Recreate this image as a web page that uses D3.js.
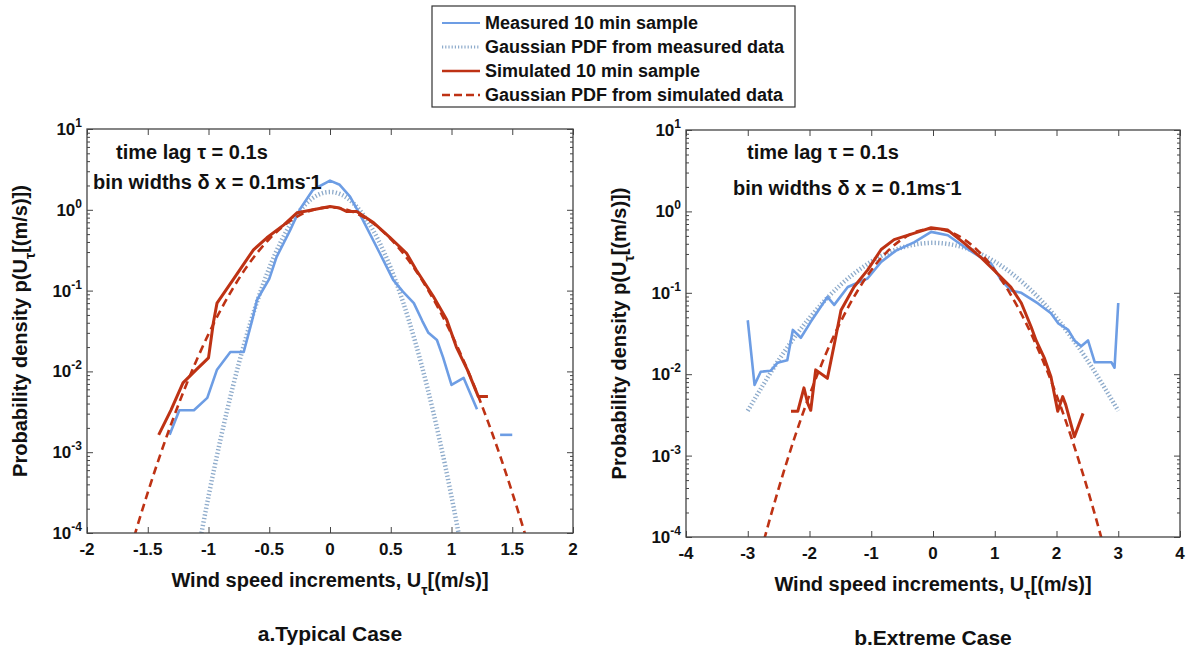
<!DOCTYPE html>
<html><head><meta charset="utf-8">
<script src="https://cdn.jsdelivr.net/npm/d3@7"></script>
<style>body{margin:0;background:#fff}text{font-family:"Liberation Sans",Arial,sans-serif;font-weight:bold;fill:#111}</style>
</head><body><svg id="c" width="1192" height="648"></svg>
<script>
// ---------- data ----------
const xTicksA = [-2,-1.5,-1,-0.5,0,0.5,1,1.5,2];
const xTickLabelsA = ["-2","-1.5","-1","-0.5","0","0.5","1","1.5","2"];
const xTicksB = [-4,-3,-2,-1,0,1,2,3,4];
const xTickLabelsB = ["-4","-3","-2","-1","0","1","2","3","4"];
const yDecades = [-4,-3,-2,-1,0,1];
const legendLabels = ["Measured 10 min sample","Gaussian PDF from measured data","Simulated 10 min sample","Gaussian PDF from simulated data"];

// Typical case
const measuredA = [[-1.32,0.00164],[-1.24,0.0033],[-1.12,0.0033],[-1.01,0.0047],[-0.93,0.0105],[-0.82,0.0174],[-0.71,0.0174],[-0.64,0.0435],[-0.60,0.077],[-0.50,0.14],[-0.44,0.26],[-0.33,0.55],[-0.25,1.0],[-0.14,1.77],[0,2.3],[0.08,2.04],[0.165,1.46],[0.27,0.75],[0.41,0.29],[0.52,0.136],[0.60,0.097],[0.69,0.07],[0.76,0.042],[0.81,0.030],[0.88,0.0245],[0.93,0.015],[1.0,0.0068],[1.1,0.0083],[1.21,0.0034]];
const measuredA2 = [[1.40,0.00164],[1.50,0.00164]];
const gaussMeasA = [[-1.1,0.0000455],[-1.0,0.000283],[-0.9,0.00147],[-0.8,0.00643],[-0.7,0.0236],[-0.6,0.0730],[-0.5,0.190],[-0.4,0.4145],[-0.3,0.761],[-0.2,1.175],[-0.1,1.524],[0,1.662],[0.1,1.524],[0.2,1.175],[0.3,0.761],[0.4,0.4145],[0.5,0.190],[0.6,0.0730],[0.7,0.0236],[0.8,0.00643],[0.9,0.00147],[1.0,0.000283],[1.1,0.0000455]];
const simulatedA = [[-1.41,0.00164],[-1.31,0.0033],[-1.21,0.0072],[-1.1,0.0105],[-1.0,0.0147],[-0.96,0.04],[-0.93,0.07],[-0.8,0.135],[-0.63,0.32],[-0.52,0.45],[-0.38,0.65],[-0.27,0.92],[-0.14,1.0],[0,1.1],[0.08,1.05],[0.14,0.95],[0.22,0.95],[0.36,0.69],[0.49,0.46],[0.63,0.29],[0.71,0.18],[0.85,0.085],[0.96,0.044],[1.04,0.020],[1.13,0.0105],[1.22,0.0049],[1.30,0.0049]];
const gaussSimA = [[-1.7,0.000031],[-1.6,0.000103],[-1.5,0.000316],[-1.4,0.000902],[-1.3,0.00239],[-1.2,0.0059],[-1.1,0.01355],[-1.0,0.0289],[-0.9,0.0575],[-0.8,0.106],[-0.7,0.183],[-0.6,0.292],[-0.5,0.435],[-0.4,0.601],[-0.3,0.775],[-0.2,0.928],[-0.1,1.034],[0,1.072],[0.1,1.034],[0.2,0.928],[0.3,0.775],[0.4,0.601],[0.5,0.435],[0.6,0.292],[0.7,0.183],[0.8,0.106],[0.9,0.0575],[1.0,0.0289],[1.1,0.01355],[1.2,0.0059],[1.3,0.00239],[1.4,0.000902],[1.5,0.000316],[1.6,0.000103],[1.7,0.000031]];

// Extreme case
const measuredB = [[-3.0,0.046],[-2.89,0.0074],[-2.79,0.0107],[-2.63,0.011],[-2.52,0.0138],[-2.36,0.0148],[-2.27,0.035],[-2.14,0.028],[-1.98,0.044],[-1.71,0.089],[-1.6,0.071],[-1.38,0.118],[-1.06,0.15],[-0.84,0.24],[-0.6,0.33],[-0.3,0.42],[-0.03,0.56],[0.24,0.51],[0.5,0.37],[0.78,0.27],[0.94,0.23],[1.1,0.144],[1.26,0.107],[1.43,0.1],[1.7,0.074],[1.91,0.056],[2.03,0.042],[2.19,0.035],[2.29,0.026],[2.4,0.022],[2.51,0.026],[2.62,0.014],[2.89,0.014],[2.94,0.012],[3.0,0.075]];
const gaussMeasB = [[-3,0.00355],[-2.75,0.0074],[-2.5,0.01484],[-2.25,0.0279],[-2,0.0491],[-1.75,0.0808],[-1.5,0.1244],[-1.25,0.179],[-1,0.2416],[-0.75,0.305],[-0.5,0.360],[-0.25,0.397],[0,0.411],[0.25,0.397],[0.5,0.360],[0.75,0.305],[1,0.2416],[1.25,0.179],[1.5,0.1244],[1.75,0.0808],[2,0.0491],[2.25,0.0279],[2.5,0.01484],[2.75,0.0074],[3,0.00355]];
const simulatedB = [[-2.30,0.0035],[-2.19,0.0035],[-2.09,0.0068],[-2.03,0.0044],[-1.98,0.0036],[-1.9,0.0113],[-1.71,0.0089],[-1.6,0.023],[-1.49,0.061],[-1.28,0.118],[-1.06,0.19],[-0.84,0.34],[-0.63,0.45],[-0.3,0.54],[-0.03,0.63],[0.24,0.59],[0.5,0.41],[0.78,0.27],[1.05,0.17],[1.26,0.118],[1.43,0.075],[1.59,0.038],[1.67,0.026],[1.8,0.016],[1.91,0.0093],[2.02,0.0035],[2.1,0.0053],[2.15,0.0042],[2.29,0.0017],[2.43,0.0033]];
const gaussSimB = [[-3,0.0000155],[-2.75,0.000084],[-2.5,0.000393],[-2.25,0.00159],[-2,0.00554],[-1.75,0.0167],[-1.5,0.0434],[-1.25,0.0974],[-1,0.189],[-0.75,0.316],[-0.5,0.456],[-0.25,0.569],[0,0.612],[0.25,0.569],[0.5,0.456],[0.75,0.316],[1,0.189],[1.25,0.0974],[1.5,0.0434],[1.75,0.0167],[2,0.00554],[2.25,0.00159],[2.5,0.000393],[2.75,0.000084],[3,0.0000155]];

// ---------- styles ----------
const C_MEAS = "#6d9de4", C_GMEAS = "#8eabcb", C_SIM = "#be3214";
const svg = d3.select("#c");

function panel(id, box, xDomain, xTicks, xLabels, series, title){
  const x = d3.scaleLinear().domain(xDomain).range([box.x0, box.x1]);
  const y = d3.scaleLog().domain([1e-4, 10]).range([box.y1, box.y0]);
  const g = svg.append("g");
  g.append("clipPath").attr("id", "clip"+id).append("rect")
    .attr("x", box.x0).attr("y", box.y0).attr("width", box.x1-box.x0).attr("height", box.y1-box.y0);

  const minor = [];
  yDecades.forEach(d => { if (d < 1) for (let k=2;k<=9;k++) minor.push(k*Math.pow(10,d)); });
  const majors = yDecades.map(d => Math.pow(10,d));
  g.append("g").attr("transform",`translate(${box.x0},0)`)
    .call(d3.axisRight(y).tickValues(minor).tickSize(3).tickFormat(""))
    .call(s=>s.select(".domain").remove());
  g.append("g").attr("transform",`translate(${box.x1},0)`)
    .call(d3.axisLeft(y).tickValues(minor).tickSize(3).tickFormat(""))
    .call(s=>s.select(".domain").remove());
  g.append("g").attr("transform",`translate(${box.x0},0)`)
    .call(d3.axisRight(y).tickValues(majors).tickSize(6).tickFormat(""))
    .call(s=>s.select(".domain").remove());
  g.append("g").attr("transform",`translate(${box.x1},0)`)
    .call(d3.axisLeft(y).tickValues(majors).tickSize(6).tickFormat(""))
    .call(s=>s.select(".domain").remove());
  g.append("g").attr("transform",`translate(0,${box.y1})`)
    .call(d3.axisTop(x).tickValues(xTicks).tickSize(6).tickFormat(""))
    .call(s=>s.select(".domain").remove());
  g.append("g").attr("transform",`translate(0,${box.y0})`)
    .call(d3.axisBottom(x).tickValues(xTicks).tickSize(6).tickFormat(""))
    .call(s=>s.select(".domain").remove());
  g.selectAll(".tick line").attr("stroke","#444");

  xTicks.forEach((t,i)=>{
    g.append("text").attr("x", x(t)).attr("y", box.y1+22).attr("text-anchor","middle")
      .attr("font-size",17).text(xLabels[i]);
  });
  yDecades.forEach(d=>{
    const t = g.append("text").attr("x", box.x0-5).attr("y", y(Math.pow(10,d))+6)
      .attr("text-anchor","end").attr("font-size",17);
    t.append("tspan").text("10");
    t.append("tspan").attr("dy",-8).attr("font-size",12).text(String(d));
  });

  const line = d3.line().x(d=>x(d[0])).y(d=>y(d[1]));
  const smooth = d3.line().x(d=>x(d[0])).y(d=>y(d[1])).curve(d3.curveMonotoneX);
  const cg = g.append("g").attr("clip-path",`url(#clip${id})`).attr("fill","none");
  cg.append("path").attr("d", smooth(series.gMeas)).attr("stroke",C_GMEAS).attr("stroke-width",4.5).attr("stroke-dasharray","1.3,2.2");
  series.meas.forEach(m=>cg.append("path").attr("d", line(m)).attr("stroke",C_MEAS).attr("stroke-width",2.6).attr("stroke-linejoin","round"));
  cg.append("path").attr("d", smooth(series.gSim)).attr("stroke",C_SIM).attr("stroke-width",2.6).attr("stroke-dasharray","8,5");
  cg.append("path").attr("d", line(series.sim)).attr("stroke",C_SIM).attr("stroke-width",3).attr("stroke-linejoin","round");

  g.append("rect").attr("x",box.x0).attr("y",box.y0).attr("width",box.x1-box.x0).attr("height",box.y1-box.y0)
    .attr("fill","none").attr("stroke","#444").attr("stroke-width",1.3);

  const a1 = g.append("text").attr("x", box.x0 + (id==="A"?29:61)).attr("y", 159).attr("font-size",20);
  a1.text("time lag τ = 0.1s");
  const a2 = g.append("text").attr("x", box.x0 + (id==="A"?6:47)).attr("y", id==="A"?189:195).attr("font-size",20);
  a2.append("tspan").text("bin widths δ x = 0.1ms");
  a2.append("tspan").attr("dy",-7).attr("font-size",14).text("-");
  a2.append("tspan").attr("dy",7).text("1");

  const cx = (box.x0+box.x1)/2;
  const xl = g.append("text").attr("x", cx).attr("y", box.y1+54).attr("text-anchor","middle").attr("font-size",20);
  xl.append("tspan").text("Wind speed increments, U");
  xl.append("tspan").attr("dy",8).attr("font-size",14).text("τ");
  xl.append("tspan").attr("dy",-8).text("[(m/s)]");

  const cy = (box.y0+box.y1)/2;
  const yl = g.append("text").attr("transform",`translate(${box.x0-60},${cy}) rotate(-90)`)
    .attr("text-anchor","middle").attr("font-size",20);
  yl.append("tspan").text("Probability density p(U");
  yl.append("tspan").attr("dy",8).attr("font-size",14).text("τ");
  yl.append("tspan").attr("dy",-8).text("[(m/s)])");

  g.append("text").attr("x", cx).attr("y", box.y1+108).attr("text-anchor","middle").attr("font-size",21).text(title);
}

panel("A", {x0:87,x1:573,y0:129,y1:533}, [-2,2], xTicksA, xTickLabelsA,
  {meas:[measuredA, measuredA2], gMeas:gaussMeasA, sim:simulatedA, gSim:gaussSimA}, "a.Typical Case");
panel("B", {x0:686,x1:1180,y0:130,y1:537}, [-4,4], xTicksB, xTickLabelsB,
  {meas:[measuredB], gMeas:gaussMeasB, sim:simulatedB, gSim:gaussSimB}, "b.Extreme Case");

// legend
const lg = svg.append("g");
lg.append("rect").attr("x",432).attr("y",6).attr("width",363).attr("height",101)
  .attr("fill","#fff").attr("stroke","#333").attr("stroke-width",1.2);
const legStyles = [
  {c:C_MEAS,w:2.2,da:null},
  {c:C_GMEAS,w:3,da:"1.2,2"},
  {c:C_SIM,w:2.6,da:null},
  {c:C_SIM,w:2.6,da:"8,4"}
];
legendLabels.forEach((lab,i)=>{
  const yy = 23 + i*24;
  lg.append("line").attr("x1",442).attr("x2",480).attr("y1",yy).attr("y2",yy)
    .attr("stroke",legStyles[i].c).attr("stroke-width",legStyles[i].w)
    .attr("stroke-dasharray",legStyles[i].da);
  lg.append("text").attr("x",485).attr("y",yy+6).attr("font-size",18).text(lab);
});
</script></body></html>
